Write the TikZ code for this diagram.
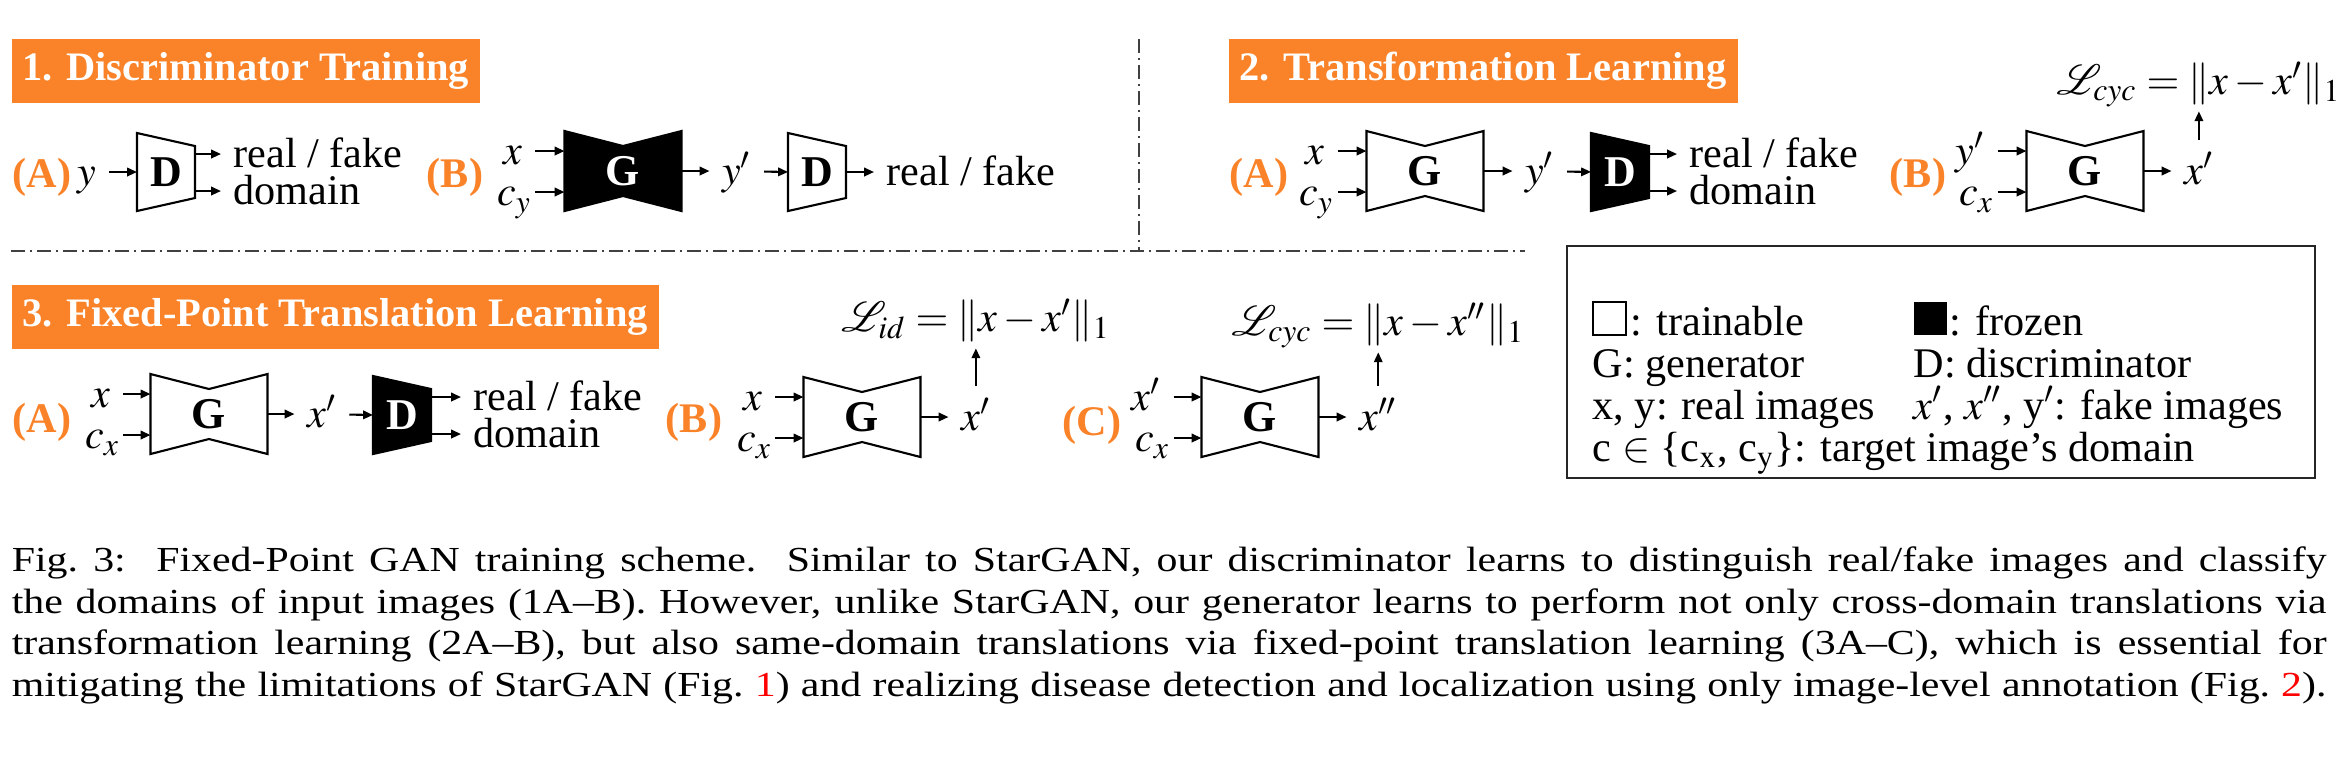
\documentclass[tikz,border=0pt]{standalone}
\usepackage{mathptmx}
\usepackage[no-math]{fontspec}
\setmainfont{Liberation Serif}
\usetikzlibrary{arrows.meta,positioning}

\definecolor{hdrorange}{RGB}{250,130,40}

\tikzset{
  arr/.style={-{Triangle[length=2.8pt,width=2.4pt]}, line width=0.6pt},
  blk/.style={draw, line width=0.6pt},
  lbl/.style={font=\fontsize{12}{14}\selectfont, inner sep=0.12cm, text height=9pt, text depth=1.2pt},
  sub/.style={lbl, inner xsep=0.03cm},
  hdr/.style={fill=hdrorange, text=white, font=\fontsize{11.5}{13}\selectfont\bfseries,
    inner xsep=0.11cm, minimum height=0.64cm, anchor=north west},
  tag/.style={text=hdrorange, font=\fontsize{12}{14}\selectfont\bfseries, inner sep=0pt},
  leg/.style={font=\fontsize{12}{14}\selectfont, inner sep=0pt, anchor=base west, text height=8pt, text depth=2pt},
  sep/.style={line width=0.5pt, black!75, dash pattern=on 0.14cm off 0.05cm on 0.02cm off 0.05cm},
  % generator: bow-tie block
  gen/.pic={
    \draw[blk, fill=#1] (-58.5,-40) -- (0,-25) -- (58.5,-40) -- (58.5,40) -- (0,25) -- (-58.5,40) -- cycle;
    \node[font=\fontsize{12.5}{14}\selectfont\bfseries, text=-#1] (-c) at (0,0) {G};
    \coordinate (-in1) at (-58.5,-20);
    \coordinate (-in2) at (-58.5,21);
    \coordinate (-out) at (58.5,0);
  },
  % discriminator: trapezoid block
  disc/.pic={
    \draw[blk, fill=#1] (-29,-39) -- (29,-26) -- (29,26) -- (-29,39) -- cycle;
    \node[font=\fontsize{12.5}{14}\selectfont\bfseries, text=-#1] (-c) at (0,0) {D};
    \coordinate (-in) at (-29,0);
    \coordinate (-out) at (29,0);
    \coordinate (-out1) at (29,-18);
    \coordinate (-out2) at (29,19);
  },
}

\begin{document}
\begin{tikzpicture}[x=0.01cm, y=-0.01cm]
  \useasboundingbox (0,0) rectangle (2340,756);

  % headers
  \node[hdr] (h1) at (11,38) {1. Discriminator Training};
  \node[hdr] (h2) at (1228,38) {2. Transformation Learning};
  \node[hdr] (h3) at (11,284) {3. Fixed-Point Translation Learning};

  % separators
  \draw[sep] (1139,39) -- (1139,251);
  \draw[sep] (11,251) -- (1525,251);

  % 1A
  \node[tag] (t1a) at (42,177) {(A)};
  \pic (d1a) at (166,172) {disc=white};
  \node[lbl, left=0.28cm of d1a-in] (y1a) {$y$};
  \node[lbl, right=0.26cm of d1a-out1] (rf1a) {real / fake};
  \node[lbl, right=0.26cm of d1a-out2] (dom1a) {domain};
  \draw[arr] (y1a) -- (d1a-in);
  \draw[arr] (d1a-out1) -- (rf1a);
  \draw[arr] (d1a-out2) -- (dom1a);

  % 1B
  \node[tag] (t1b) at (455,177) {(B)};
  \pic (g1b) at (623,171) {gen=black};
  \node[lbl, left=0.29cm of g1b-in1] (x1b) {$x$};
  \node[sub, left=0.29cm of g1b-in2] (cy1b) {$c_y$};
  \node[lbl, right=0.28cm of g1b-out] (yp1b) {$y'$};
  \pic (d1b) at (817,172) {disc=white};
  \node[lbl, right=0.28cm of d1b-out] (rf1b) {real / fake};
  \draw[arr] (x1b) -- (g1b-in1);
  \draw[arr] (cy1b) -- (g1b-in2);
  \draw[arr] (g1b-out) -- (yp1b);
  \draw[arr] (yp1b) -- (d1b-in);
  \draw[arr] (d1b-out) -- (rf1b);

  % 2A
  \node[tag] (t2a) at (1259,177) {(A)};
  \pic (g2a) at (1425,171) {gen=white};
  \node[lbl, left=0.29cm of g2a-in1] (x2a) {$x$};
  \node[sub, left=0.29cm of g2a-in2] (cy2a) {$c_y$};
  \node[lbl, right=0.29cm of g2a-out] (yp2a) {$y'$};
  \pic (d2a) at (1620,172) {disc=black};
  \node[lbl, right=0.28cm of d2a-out1] (rf2a) {real / fake};
  \node[lbl, right=0.28cm of d2a-out2] (dom2a) {domain};
  \draw[arr] (x2a) -- (g2a-in1);
  \draw[arr] (cy2a) -- (g2a-in2);
  \draw[arr] (g2a-out) -- (yp2a);
  \draw[arr] (yp2a) -- (d2a-in);
  \draw[arr] (d2a-out1) -- (rf2a);
  \draw[arr] (d2a-out2) -- (dom2a);

  % 2B
  \node[tag] (t2b) at (1918,177) {(B)};
  \pic (g2b) at (2085,171) {gen=white};
  \node[lbl, left=0.29cm of g2b-in1] (yp2b) {$y'$};
  \node[sub, left=0.29cm of g2b-in2] (cx2b) {$c_x$};
  \node[lbl, right=0.28cm of g2b-out] (xp2b) {$x'$};
  \node[lbl, above=0.29cm of xp2b] (loss2b) {$\mathcal{L}_{cyc} = \|x - x'\|_1$};
  \draw[arr] (yp2b) -- (g2b-in1);
  \draw[arr] (cx2b) -- (g2b-in2);
  \draw[arr] (g2b-out) -- (xp2b);
  \draw[arr] (xp2b) -- (loss2b);

  % 3A
  \node[tag] (t3a) at (42,422) {(A)};
  \pic (g3a) at (209,414) {gen=white};
  \node[lbl, left=0.27cm of g3a-in1] (x3a) {$x$};
  \node[sub, left=0.27cm of g3a-in2] (cx3a) {$c_x$};
  \node[lbl, right=0.27cm of g3a-out] (xp3a) {$x'$};
  \pic (d3a) at (402,415) {disc=black};
  \node[lbl, right=0.3cm of d3a-out1] (rf3a) {real / fake};
  \node[lbl, right=0.3cm of d3a-out2] (dom3a) {domain};
  \draw[arr] (x3a) -- (g3a-in1);
  \draw[arr] (cx3a) -- (g3a-in2);
  \draw[arr] (g3a-out) -- (xp3a);
  \draw[arr] (xp3a) -- (d3a-in);
  \draw[arr] (d3a-out1) -- (rf3a);
  \draw[arr] (d3a-out2) -- (dom3a);

  % 3B
  \node[tag] (t3b) at (694,422) {(B)};
  \pic (g3b) at (862,417) {gen=white};
  \node[lbl, left=0.28cm of g3b-in1] (x3b) {$x$};
  \node[sub, left=0.28cm of g3b-in2] (cx3b) {$c_x$};
  \node[lbl, right=0.28cm of g3b-out] (xp3b) {$x'$};
  \node[lbl, above=0.38cm of xp3b] (lossid) {$\mathcal{L}_{id} = \|x - x'\|_1$};
  \draw[arr] (x3b) -- (g3b-in1);
  \draw[arr] (cx3b) -- (g3b-in2);
  \draw[arr] (g3b-out) -- (xp3b);
  \draw[arr] (xp3b) -- (lossid);

  % 3C
  \node[tag] (t3c) at (1092,425) {(C)};
  \pic (g3c) at (1260,417) {gen=white};
  \node[lbl, left=0.28cm of g3c-in1] (xp3c) {$x'$};
  \node[sub, left=0.28cm of g3c-in2] (cx3c) {$c_x$};
  \node[lbl, right=0.28cm of g3c-out] (xpp3c) {$x''$};
  \node[lbl, above=0.34cm of xpp3c] (loss3c) {$\mathcal{L}_{cyc} = \|x - x''\|_1$};
  \draw[arr] (xp3c) -- (g3c-in1);
  \draw[arr] (cx3c) -- (g3c-in2);
  \draw[arr] (g3c-out) -- (xpp3c);
  \draw[arr] (xpp3c) -- (loss3c);

  % legend
  \draw[line width=0.6pt, black!85] (1567,246) rectangle (2315,478);
  \node[draw, line width=0.5pt, minimum size=0.33cm, inner sep=0, anchor=south west] (sqw) at (1592,336) {};
  \node[leg] (ltr) at (1630,335) {: trainable};
  \node[fill=black, minimum size=0.33cm, inner sep=0, anchor=south west] (sqb) at (1913,336) {};
  \node[leg] (lfr) at (1949,335) {: frozen};
  \node[leg] (lgen) at (1592,377) {G: generator};
  \node[leg] (ldis) at (1913,377) {D: discriminator};
  \node[leg] (lreal) at (1592,419) {x, y: real images};
  \node[leg] (lfake) at (1913,419) {$x'$, $x''$, y$'$: fake images};
  \node[leg] (ldom) at (1592,461) {c $\in$ \{c$_{\mathrm{x}}$, c$_{\mathrm{y}}$\}: target image's domain};

  % caption
  \node[anchor=north west, inner sep=0, text width=19.44cm, align=justify, xscale=1.19,
        font=\fontsize{10}{11.87}\selectfont] (cap) at (11,546) {\parfillskip=0pt\tolerance=10000\hyphenpenalty=10000
    Fig.~3:~~Fixed-Point GAN training scheme.~~Similar to StarGAN, our discriminator learns to distinguish real/fake images and classify\linebreak
    the domains of input images (1A--B). However, unlike StarGAN, our generator learns to perform not only cross-domain translations via\linebreak
    transformation learning (2A--B), but also same-domain translations via fixed-point translation learning (3A--C), which is essential for\linebreak
    mitigating the limitations of StarGAN (Fig.~\textcolor{red}{1}) and realizing disease detection and localization using only image-level annotation (Fig.~\textcolor{red}{2}).\par};
\end{tikzpicture}
\end{document}
